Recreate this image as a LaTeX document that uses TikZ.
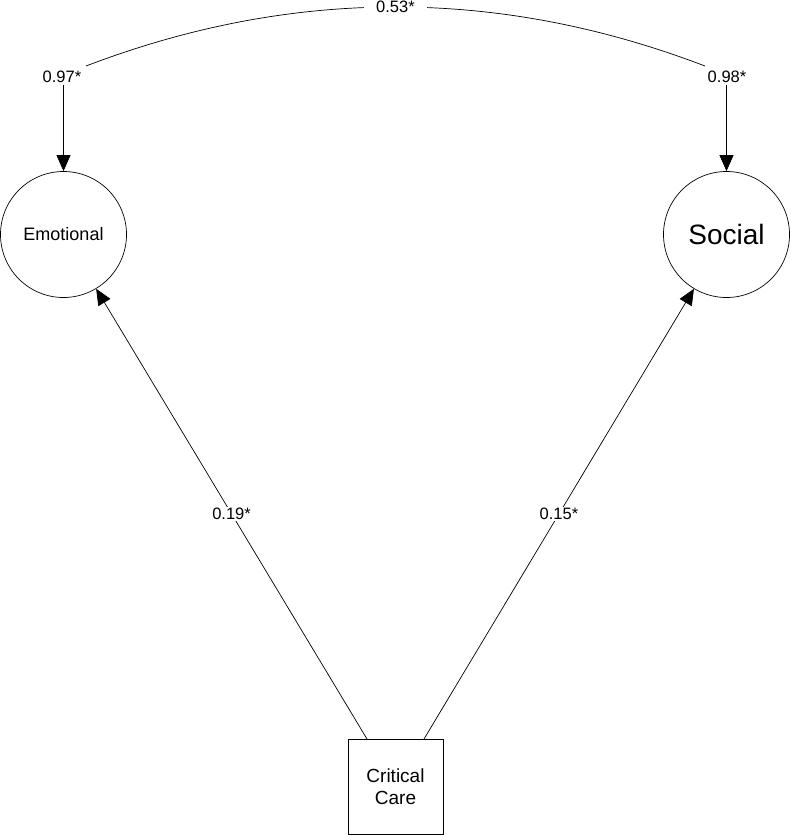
\documentclass[tikz,border=0pt]{standalone}
\usepackage{fontspec}
\setmainfont{Liberation Sans}
\usetikzlibrary{arrows.meta}
\begin{document}
\begin{tikzpicture}[x=1pt,y=-1pt,
  conn/.style={line width=0.7pt},
  arr/.style={conn,-{Triangle[length=16pt,width=14pt]}},
  latent/.style={draw,circle,line width=0.7pt,minimum size=126pt,inner sep=0pt},
  obs/.style={draw,rectangle,line width=0.7pt,minimum size=95pt,inner sep=0pt,align=center,font=\fontsize{19}{22}\selectfont},
  lab/.style={fill=white,inner sep=1.5pt,font=\fontsize{16.5}{19}\selectfont}]
\useasboundingbox (0,0) rectangle (791,835);
\node[latent,font=\fontsize{18}{21}\selectfont] (emo) at (63.5,234.5) {Emotional};
\node[latent,font=\fontsize{28}{32}\selectfont] (soc) at (726.5,234.5) {Social};
\node[obs] (cc) at (395.5,786.5) {Critical\\Care};
\coordinate (s1) at (367,739);
\coordinate (s2) at (424,739);
\coordinate (a1) at (86,66);
\coordinate (a2) at (705,66);
\draw[conn] (a1) .. controls (292,-12.7) and (499,-12.7) .. (a2)
  node[lab,pos=0.5,inner xsep=12pt] (l53) {0.53*};
\node[lab] (l97) at (62,77) {0.97*};
\node[lab] (l98) at (727,77) {0.98*};
\draw[arr] (l97.south -| emo.north) -- (emo.north);
\draw[arr] (l98.south -| soc.north) -- (soc.north);
\draw[arr] (s1) -- (emo) node[lab,pos=0.5] (l19) {0.19*};
\draw[arr] (s2) -- (soc) node[lab,pos=0.5] (l15) {0.15*};
\end{tikzpicture}
\end{document}
